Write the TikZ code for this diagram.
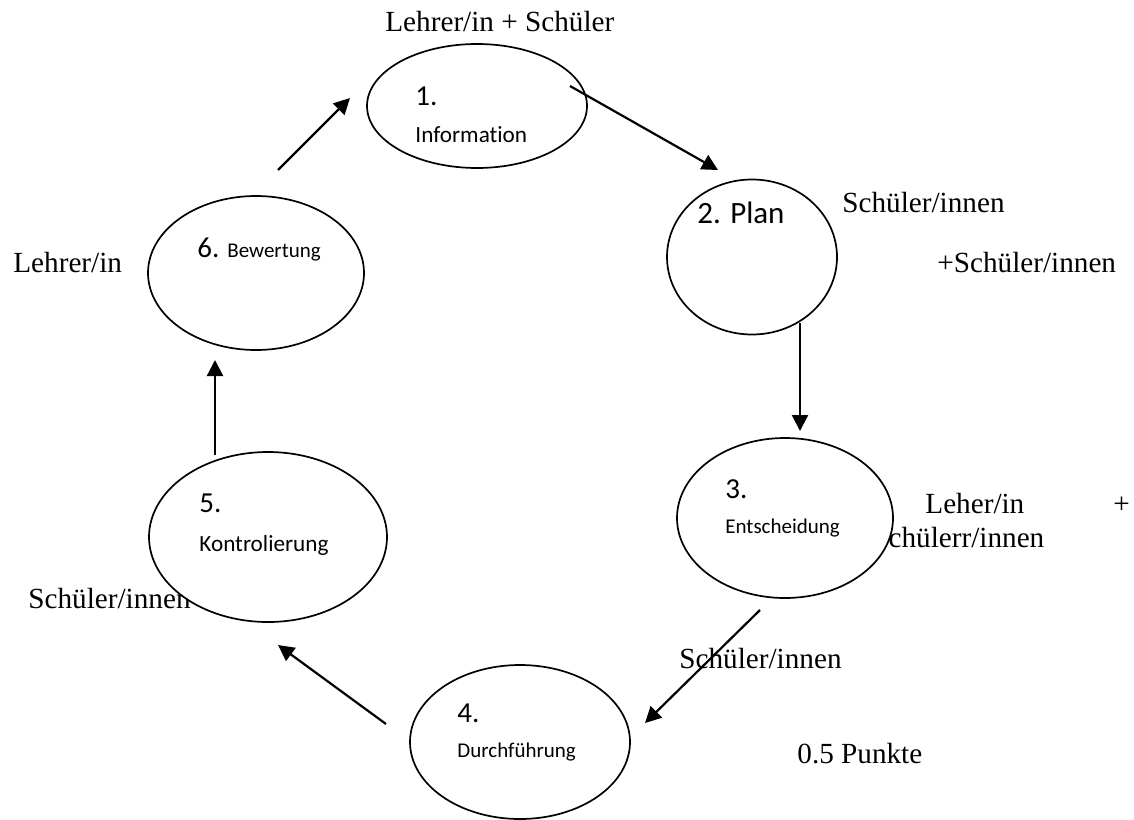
\documentclass[tikz,border=0pt]{standalone}
\usepackage{fontspec}
\setmainfont{Liberation Serif}
\newfontfamily\calibri[Ligatures={NoCommon}]{Carlito}
\usetikzlibrary{shapes.geometric,arrows.meta}
\tikzset{
  phase/.style={draw, ellipse, fill=white, line width=0.85pt, inner sep=0pt},
  role/.style={anchor=base west, inner sep=0pt, font=\fontsize{14.6}{17}\selectfont},
  num/.style={anchor=base west, inner sep=0pt, font=\calibri\fontsize{14.5}{17}\selectfont},
  word/.style={anchor=base west, inner sep=0pt, font=\calibri\fontsize{#1}{13}\selectfont},
  flow/.style={line width=1.1pt, -{Triangle[length=8pt,width=8pt]}}
}
\begin{document}
\begin{tikzpicture}[x=0.5pt,y=-0.5pt]
\useasboundingbox (0,0) rectangle (1134,819);
\fill[white] (0,0) rectangle (1134,819);

% who is responsible for each phase
\node[role] (rTop) at (385,32) {Lehrer/in + Schüler};
\node[role] (rPlanA) at (842,212) {Schüler/innen};
\node[role] (rPlanB) at (937,272) {+Schüler/innen};
\node[role] (rLeft) at (13,272) {Lehrer/in};
\node[role] (rDecA) at (925,513) {Leher/in};
\node[role] (rDecPlus) at (1113,513) {+};
\node[role] (rDecB) at (872,547) {Schülerr/innen};
\node[role] (rCtrl) at (28,608) {Schüler/innen};
\node[role] (rDo) at (679,668) {Schüler/innen};
\node[role] (pts) at (797,763) {0.5 Punkte};

% the six phases (sizes in pt, half the picture units)
\node[phase, minimum width=110pt, minimum height=62pt] (p1) at (477,106) {};
\node[phase, minimum width=85pt, minimum height=77.5pt] (p2) at (752,257) {};
\node[phase, minimum width=108pt, minimum height=80pt] (p3) at (785,518) {};
\node[phase, minimum width=110pt, minimum height=77pt] (p4) at (520,742) {};
\node[phase, minimum width=119pt, minimum height=85pt] (p5) at (268,537) {};
\node[phase, minimum width=108pt, minimum height=77pt] (p6) at (256,273) {};

\node[num] (t1) at (415,105) {1.};
\node[word=11.6] (w1) at (415,142) {Information};
\node[num, font=\calibri\fontsize{15.5}{18}\selectfont] (t2) at (697,223) {2. Plan};
\node[num] (t3) at (725,498) {3.};
\node[word=10.5] (w3) at (725,533) {Entscheidung};
\node[num] (t4) at (457,722) {4.};
\node[word=10.5] (w4) at (457,757) {Durchführung};
\node[num] (t5) at (199,512) {5.};
\node[word=11.6] (w5) at (199,551) {Kontrolierung};
\node[num] (t6) at (197,257) {6.};
\node[word=10.5] (w6) at (227,257) {Bewertung};

% arrow ends
\coordinate (a1s) at (570,86);  \coordinate (a1e) at (718,170);
\coordinate (a2s) at (800,323); \coordinate (a2e) at (800,431);
\coordinate (a3s) at (760,610); \coordinate (a3e) at (645,723);
\coordinate (a4s) at (386,724); \coordinate (a4e) at (278,645);
\coordinate (a5s) at (215,455); \coordinate (a5e) at (215,360);
\coordinate (a6s) at (278,170); \coordinate (a6e) at (350,98);

\draw[flow] (a1s) -- (a1e);
\draw[flow] (a2s) -- (a2e);
\draw[flow] (a3s) -- (a3e);
\draw[flow] (a4s) -- (a4e);
\draw[flow] (a5s) -- (a5e);
\draw[flow] (a6s) -- (a6e);
\end{tikzpicture}
\end{document}
